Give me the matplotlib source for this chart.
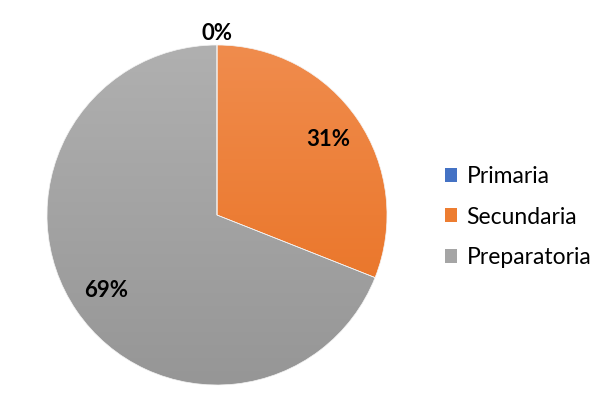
import numpy as np
import matplotlib.pyplot as plt
from matplotlib.patches import Patch
from matplotlib.colors import LinearSegmentedColormap

plt.rcParams['font.family'] = ['Lato', 'DejaVu Sans']

# datos
categorias = ['Primaria', 'Secundaria', 'Preparatoria']
valores = [0, 31, 69]
colores = ['#4472C4', '#ED7D31', '#A5A5A5']
claros = ['#5B87D6', '#F08C4D', '#B0B0B0']
oscuros = ['#3A64B0', '#E86E1D', '#969696']

fig = plt.figure(figsize=(6.07, 4.08), dpi=100)
ax = fig.add_axes([47 / 607, 23 / 408, 340 / 607, 340 / 408])

wedges, _ = ax.pie(valores, colors=colores, startangle=90, counterclock=False,
                   wedgeprops=dict(edgecolor='#f4f4f4', linewidth=0.5))
ax.set_xlim(-1, 1)
ax.set_ylim(-1, 1)

# degradado vertical dentro de cada rebanada
grad = np.linspace(1, 0, 256).reshape(-1, 1)
for w, c1, c2 in zip(wedges, claros, oscuros):
    cmap = LinearSegmentedColormap.from_list('g', [c2, c1])
    im = ax.imshow(grad, cmap=cmap, extent=[-1, 1, -1, 1], aspect='auto',
                   zorder=2, vmin=0, vmax=1)
    im.set_clip_path(w)
    w.set_facecolor('none')
    w.set_zorder(3)

# etiquetas de porcentaje
total = sum(valores)
for w, v in zip(wedges, valores):
    ang = np.deg2rad((w.theta1 + w.theta2) / 2)
    r = 0.79 if v > 0 else 1.065
    ax.text(r * np.cos(ang), r * np.sin(ang), f'{v / total * 100:.0f}%',
            ha='center', va='center', fontsize=16, fontweight='bold',
            color='black', zorder=5)

handles = [Patch(facecolor=c, edgecolor='none') for c in colores]
fig.legend(handles, categorias, loc='center left',
           bbox_to_anchor=(424 / 607, 1 - 217 / 408), frameon=False,
           fontsize=16.5, handlelength=0.55, handleheight=0.55,
           labelspacing=0.85, handletextpad=0.4)

fig.savefig('out.png', dpi=100)
